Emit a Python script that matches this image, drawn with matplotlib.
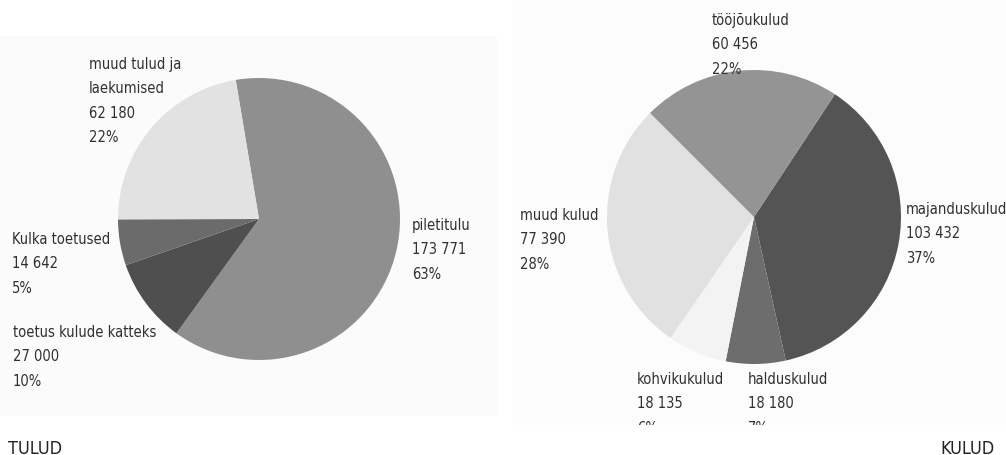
import numpy as np
import matplotlib
matplotlib.use('Agg')
import matplotlib.pyplot as plt
from matplotlib.patches import Rectangle

plt.rcParams['font.family'] = ['DejaVu Sans']
plt.rcParams['font.stretch'] = 'condensed'

# Tulud (revenue)
tulud_names = ['piletitulu', 'toetus kulude katteks', 'Kulka toetused', 'muud tulud ja\nlaekumised']
tulud_values = [173771, 27000, 14642, 62180]
tulud_pct = [63, 10, 5, 22]
tulud_colors = ['#8f8f8f', '#4f4f4f', '#6b6b6b', '#e2e2e2']

# Kulud (costs)
kulud_names = ['majanduskulud', 'halduskulud', 'kohvikukulud', 'muud kulud', 'tööjõukulud']
kulud_values = [103432, 18180, 18135, 77390, 60456]
kulud_pct = [37, 7, 6, 28, 22]
kulud_colors = ['#545454', '#6d6d6d', '#f3f3f3', '#e1e1e1', '#949494']

W, H = 1006, 456


def fmt(v):
    return f'{v:,}'.replace(',', ' ')


def draw_pie(ax, values, colors, names, pct, center, radius, start, label_pos):
    ax.pie(values, colors=colors, startangle=start, counterclock=False,
           center=center, radius=radius, frame=True,
           wedgeprops=dict(linewidth=0))
    for n, v, p, (x, y) in zip(names, values, pct, label_pos):
        ax.text(x, y, f'{n}\n{fmt(v)}\n{p}%', ha='left', va='top',
                fontsize=10.5, color='#303030', linespacing=1.78, clip_on=True)


fig = plt.figure(figsize=(W / 100, H / 100), dpi=100)
fig.patch.set_facecolor('white')

# left panel: x 0..497, y(img) 37..417
ax1 = fig.add_axes([0, (H - 417) / H, 497 / W, (417 - 37) / H])
draw_pie(ax1, tulud_values, tulud_colors, tulud_names, tulud_pct,
         center=(259, H - 220), radius=141, start=99.5,
         label_pos=[(412, H - 218), (13, H - 325), (12, H - 232), (89, H - 57)])
ax1.set_xlim(0, 497)
ax1.set_ylim(H - 417, H - 37)
ax1.axis('off')
ax1.add_patch(Rectangle((0, H - 417), 497, 380, facecolor='#fbfbfb', zorder=-5))

# right panel: x 512..1006, y(img) 0..426
ax2 = fig.add_axes([512 / W, (H - 426) / H, (W - 512) / W, 426 / H])
draw_pie(ax2, kulud_values, kulud_colors, kulud_names, kulud_pct,
         center=(754, H - 218), radius=147, start=56.6,
         label_pos=[(906, H - 202), (748, H - 372), (637, H - 372), (520, H - 208), (712, H - 13)])
ax2.set_xlim(512, W)
ax2.set_ylim(H - 426, H)
ax2.axis('off')
ax2.add_patch(Rectangle((512, H - 426), W - 512, 426, facecolor='#fcfcfc', zorder=-5))

fig.text(8 / W, 1 - 454 / H, 'TULUD', fontsize=13, color='#222222',
         ha='left', va='baseline')
fig.text(995 / W, 1 - 454 / H, 'KULUD', fontsize=13, color='#222222',
         ha='right', va='baseline')

fig.savefig('out.png', dpi=100)
